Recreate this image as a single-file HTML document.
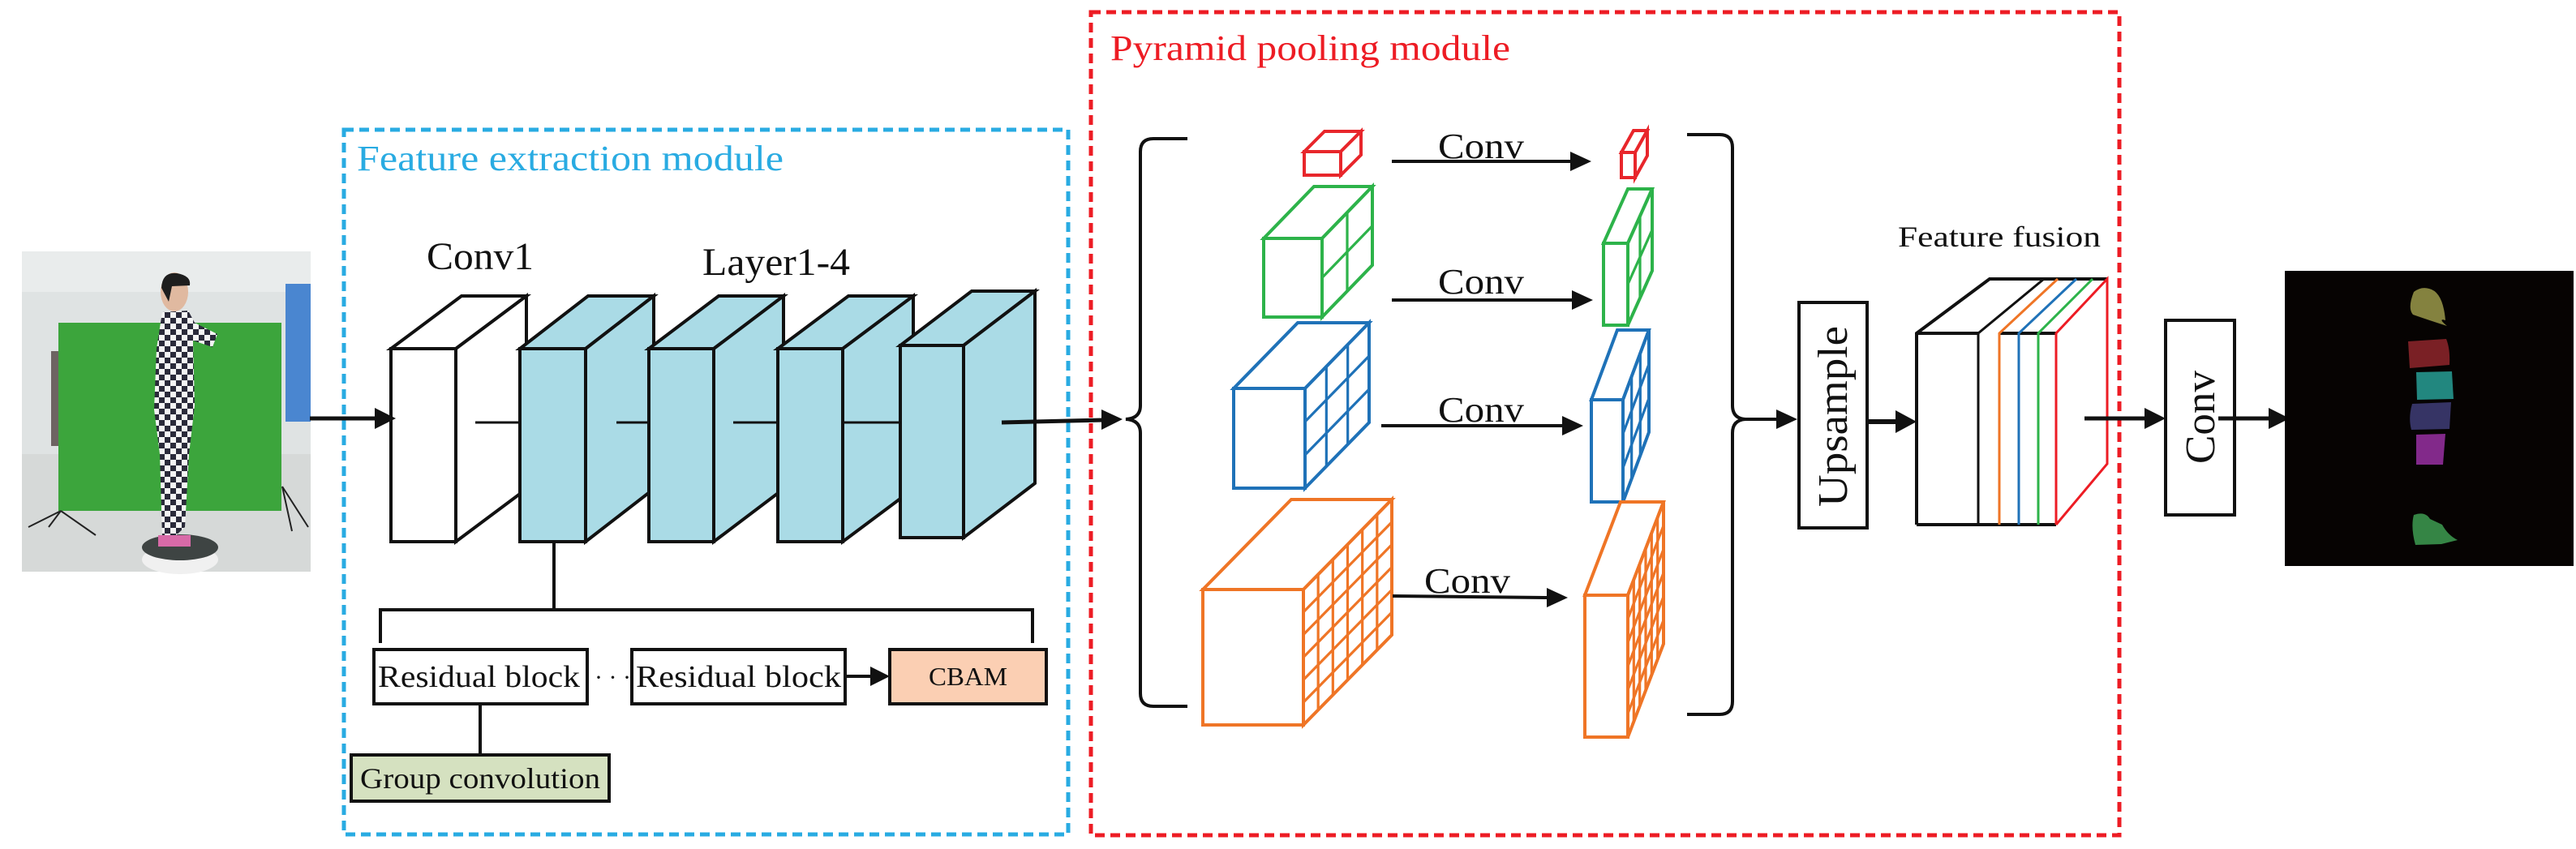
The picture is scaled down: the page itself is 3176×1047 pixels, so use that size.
<!DOCTYPE html>
<html><head><meta charset="utf-8"><style>
html,body{margin:0;padding:0;background:#fff;}
svg{display:block;}
svg text{font-family:"Liberation Serif","Times New Roman",serif;}
</style></head><body>
<svg id="s" width="3176" height="1047" viewBox="0 0 3176 1047" xmlns="http://www.w3.org/2000/svg" font-family="Liberation Serif, serif">
<defs>
<pattern id="chk" width="14" height="14" patternUnits="userSpaceOnUse">
<rect width="14" height="14" fill="#f4f4f4"/><rect width="7" height="7" fill="#2a2a3a"/><rect x="7" y="7" width="7" height="7" fill="#2a2a3a"/>
</pattern>
</defs>
<!-- photo -->
<g>
<rect x="27" y="310" width="356" height="395" fill="#dfe3e3"/>
<rect x="27" y="310" width="356" height="50" fill="#e9ecec"/>
<rect x="27" y="560" width="356" height="145" fill="#d6d9d8"/>
<rect x="63" y="433" width="20" height="117" fill="#6d6462"/>
<rect x="352" y="350" width="31" height="170" fill="#4a86d0"/>
<rect x="72" y="398" width="275" height="232" fill="#3ca53c"/>
<line x1="75" y1="630" x2="60" y2="650" stroke="#222" stroke-width="2"/>
<line x1="75" y1="630" x2="35" y2="650" stroke="#222" stroke-width="2"/>
<line x1="75" y1="630" x2="118" y2="660" stroke="#222" stroke-width="2"/>
<line x1="348" y1="600" x2="380" y2="650" stroke="#222" stroke-width="2"/>
<line x1="348" y1="600" x2="360" y2="655" stroke="#222" stroke-width="2"/>
<ellipse cx="222" cy="690" rx="47" ry="18" fill="#f0f0f0"/>
<ellipse cx="222" cy="675" rx="47" ry="16" fill="#3e4443"/>
<path d="M200 385 L232 383 L240 398 L268 412 L262 428 L238 420 L240 500 L233 560 L228 650 L215 662 L200 662 L197 560 L190 505 L193 430 Z" fill="url(#chk)"/>
<ellipse cx="215" cy="360" rx="17" ry="24" fill="#e0b9a0"/>
<path d="M199 355 Q200 335 218 337 Q236 340 234 352 L212 353 L208 372 Z" fill="#1e1e1e"/>
<rect x="195" y="660" width="40" height="14" fill="#d86aa8"/>
</g>
<!-- dashed modules -->
<rect x="424" y="160" width="893" height="869" fill="none" stroke="#29abe2" stroke-width="5" stroke-dasharray="12,7"/>
<text x="440" y="210" font-size="44" fill="#29abe2" textLength="526" lengthAdjust="spacingAndGlyphs">Feature extraction module</text>
<rect x="1345" y="15" width="1268" height="1015" fill="none" stroke="#ed1c24" stroke-width="5" stroke-dasharray="12,7"/>
<text x="1369" y="74" font-size="44" fill="#ed1c24" textLength="493" lengthAdjust="spacingAndGlyphs">Pyramid pooling module</text>

<text x="526" y="332" font-size="48" fill="#111" textLength="132" lengthAdjust="spacingAndGlyphs">Conv1</text>
<text x="866" y="339" font-size="48" fill="#111" textLength="182" lengthAdjust="spacingAndGlyphs">Layer1-4</text>

<g id="fe" stroke="#111" stroke-width="4" stroke-linejoin="miter"></g>

<!-- lower branch -->
<g stroke="#111" stroke-width="4" fill="none">
<line x1="683" y1="668" x2="683" y2="752"/>
<polyline points="469,793 469,752 1273,752 1273,793"/>
<line x1="592" y1="868" x2="592" y2="931"/>
<line x1="1042" y1="834" x2="1075" y2="834"/>
</g>
<polygon points="1097,834 1073,822 1073,846" fill="#111"/>
<rect x="461" y="801" width="263" height="67" fill="#fff" stroke="#111" stroke-width="4"/>
<text x="466" y="847" font-size="38" fill="#111" textLength="249" lengthAdjust="spacingAndGlyphs">Residual block</text>
<text x="733" y="845" font-size="30" fill="#111">· · ·</text>
<rect x="779" y="801" width="263" height="67" fill="#fff" stroke="#111" stroke-width="4"/>
<text x="784" y="847" font-size="38" fill="#111" textLength="253" lengthAdjust="spacingAndGlyphs">Residual block</text>
<rect x="1097" y="801" width="193" height="67" fill="#fbcfb3" stroke="#111" stroke-width="4"/>
<text x="1145" y="845" font-size="32" fill="#111" textLength="97" lengthAdjust="spacingAndGlyphs">CBAM</text>
<rect x="433" y="931" width="318" height="57" fill="#d5e1c0" stroke="#111" stroke-width="4"/>
<text x="444" y="972" font-size="36" fill="#111" textLength="296" lengthAdjust="spacingAndGlyphs">Group convolution</text>

<!-- input arrow -->
<line x1="382" y1="516" x2="465" y2="516" stroke="#111" stroke-width="5"/>
<polygon points="488,516 462,503 462,529" fill="#111"/>
<!-- to PPM -->
<line x1="1235" y1="521" x2="1360" y2="518" stroke="#111" stroke-width="5"/>
<polygon points="1384,517 1358,505 1358,530" fill="#111"/>

<!-- braces -->
<path d="M1464 171 L1422 171 Q1406 171 1406 187 L1406 500 Q1406 516 1388 517 Q1406 518 1406 534 L1406 855 Q1406 871 1422 871 L1464 871" fill="none" stroke="#111" stroke-width="4"/>
<path d="M2080 166 L2120 166 Q2136 166 2136 182 L2136 500 Q2136 516 2152 517 Q2136 518 2136 534 L2136 865 Q2136 881 2120 881 L2080 881" fill="none" stroke="#111" stroke-width="4"/>

<g id="ppm"></g>

<!-- conv arrows -->
<g stroke="#111" stroke-width="4">
<line x1="1716" y1="199" x2="1940" y2="199"/>
<line x1="1716" y1="370" x2="1942" y2="370"/>
<line x1="1703" y1="525" x2="1930" y2="525"/>
<line x1="1717" y1="735" x2="1911" y2="737"/>
</g>
<polygon points="1962,199 1936,187 1936,211" fill="#111"/>
<polygon points="1964,370 1938,358 1938,382" fill="#111"/>
<polygon points="1952,525 1926,513 1926,537" fill="#111"/>
<polygon points="1933,737 1907,725 1907,749" fill="#111"/>
<text x="1773" y="195" font-size="44" fill="#111" textLength="106" lengthAdjust="spacingAndGlyphs">Conv</text>
<text x="1773" y="362" font-size="44" fill="#111" textLength="106" lengthAdjust="spacingAndGlyphs">Conv</text>
<text x="1773" y="520" font-size="44" fill="#111" textLength="106" lengthAdjust="spacingAndGlyphs">Conv</text>
<text x="1756" y="731" font-size="44" fill="#111" textLength="106" lengthAdjust="spacingAndGlyphs">Conv</text>

<!-- upsample -->
<line x1="2152" y1="517" x2="2194" y2="517" stroke="#111" stroke-width="4"/>
<polygon points="2216,517 2190,505 2190,529" fill="#111"/>
<rect x="2218" y="373" width="84" height="278" fill="#fff" stroke="#111" stroke-width="4"/>
<text transform="translate(2277,625) rotate(-90)" font-size="52" fill="#111" textLength="223" lengthAdjust="spacingAndGlyphs">Upsample</text>
<line x1="2302" y1="520" x2="2340" y2="520" stroke="#111" stroke-width="6"/>
<polygon points="2363,520 2337,506 2337,534" fill="#111"/>

<!-- feature fusion -->
<text x="2340" y="304" font-size="36" fill="#111" textLength="250" lengthAdjust="spacingAndGlyphs">Feature  fusion</text>
<g fill="none" stroke-width="3">
<polyline points="2363,647 2363,411 2453,344 2520,344" stroke="#111" stroke-width="4"/>
<line x1="2363" y1="411" x2="2439" y2="411" stroke="#111" stroke-width="4"/>
<line x1="2363" y1="647" x2="2535" y2="647" stroke="#111" stroke-width="4"/>
<line x1="2465" y1="411" x2="2535" y2="411" stroke="#111" stroke-width="4"/>
<line x1="2520" y1="344" x2="2598" y2="344" stroke="#111" stroke-width="4"/>
<polyline points="2439,647 2439,411 2520,344" stroke="#111"/>
<polyline points="2465,647 2465,411 2537,344" stroke="#ef7526"/>
<polyline points="2489,647 2489,411 2560,344" stroke="#1f72b8"/>
<polyline points="2513,647 2513,411 2580,344" stroke="#2db34a"/>
<polyline points="2535,647 2535,411 2598,344 2598,572 2535,647" stroke="#ed1c24"/>
</g>
<line x1="2570" y1="516" x2="2648" y2="516" stroke="#111" stroke-width="5"/>
<polygon points="2670,516 2644,503 2644,529" fill="#111"/>
<rect x="2670" y="395" width="85" height="240" fill="#fff" stroke="#111" stroke-width="4"/>
<text transform="translate(2730,572) rotate(-90)" font-size="52" fill="#111" textLength="115" lengthAdjust="spacingAndGlyphs">Conv</text>
<line x1="2735" y1="516" x2="2800" y2="516" stroke="#111" stroke-width="5"/>
<polygon points="2823,516 2797,503 2797,529" fill="#111"/>

<!-- output -->
<rect x="2817" y="334" width="356" height="364" fill="#060302"/>
<path d="M2976 360 Q2985 353 2995 356 Q3012 360 3015 395 Q3005 392 3017 402 Q2995 395 2975 388 Q2968 380 2976 360Z" fill="#84823f"/>
<path d="M2969 421 L3016 418 Q3021 430 3020 450 L2971 454 Z" fill="#7a2025"/>
<path d="M2979 459 L3023 458 L3025 492 L2980 493 Z" fill="#22877f"/>
<path d="M2974 498 L3022 496 L3020 529 L2973 530 Q2969 515 2974 498Z" fill="#363465"/>
<path d="M2979 536 L3015 535 L3012 573 L2979 573 Z" fill="#82298a"/>
<path d="M2976 635 Q2990 630 2996 640 L3011 647 Q3018 660 3030 666 L3010 671 L2978 672 Q2972 650 2976 635Z" fill="#358545"/>
</svg>
<script>
(function(){
var NS="http://www.w3.org/2000/svg";
function el(p,t,a){var e=document.createElementNS(NS,t);for(var k in a)e.setAttribute(k,a[k]);p.appendChild(e);return e;}
function cube(g,x,y,w,h,dx,dy,col,fill,n,sw,topN){
 var a={fill:fill,stroke:col,"stroke-width":sw,"stroke-linejoin":"miter"};
 el(g,"polygon",Object.assign({points:[x,y,x+dx,y-dy,x+w+dx,y-dy,x+w,y].join(" ")},a));
 el(g,"polygon",Object.assign({points:[x+w,y,x+w+dx,y-dy,x+w+dx,y+h-dy,x+w,y+h].join(" ")},a));
 el(g,"rect",Object.assign({x:x,y:y,width:w,height:h},a));
 if(n>1){for(var i=1;i<n;i++){var f=i/n;
  el(g,"line",{x1:x+w+dx*f,y1:y-dy*f,x2:x+w+dx*f,y2:y-dy*f+h,stroke:col,"stroke-width":sw*0.8});
  el(g,"line",{x1:x+w,y1:y+h*f,x2:x+w+dx,y2:y-dy+h*f,stroke:col,"stroke-width":sw*0.8});
 }}
}
var fe=document.getElementById("fe");
var B="#aadbe6",K="#111";
cube(fe,482,430,80,238,87,65,K,"#fff",0,4);
el(fe,"line",{x1:586,y1:521,x2:641,y2:521,stroke:K,"stroke-width":3});
cube(fe,641,430,81,238,84,65,K,B,0,4);
el(fe,"line",{x1:760,y1:521,x2:800,y2:521,stroke:K,"stroke-width":3});
cube(fe,800,430,80,238,86,65,K,B,0,4);
el(fe,"line",{x1:904,y1:521,x2:959,y2:521,stroke:K,"stroke-width":3});
cube(fe,959,430,80,238,87,65,K,B,0,4);
el(fe,"line",{x1:1040,y1:521,x2:1110,y2:521,stroke:K,"stroke-width":3});
cube(fe,1110,426,78,237,88,67,K,B,0,4);
var p=document.getElementById("ppm");
var R="#e8262b",G="#2db34a",BL="#1f72b8",O="#ef7526";
cube(p,1608,187,45,29,25,25,R,"#fff",0,4);
cube(p,1558,294,72,97,62,64,G,"#fff",2,4);
cube(p,1521,479,88,123,79,81,BL,"#fff",3,4);
cube(p,1483,727,124,167,109,111,O,"#fff",6,4);
cube(p,1999,188,17,31,15,27,R,"#fff",0,4);
cube(p,1977,300,30,101,30,67,G,"#fff",2,4);
cube(p,1962,493,39,126,32,86,BL,"#fff",3,4);
cube(p,1954,734,53,175,44,115,O,"#fff",6,4);
})();
</script>
</body></html>
